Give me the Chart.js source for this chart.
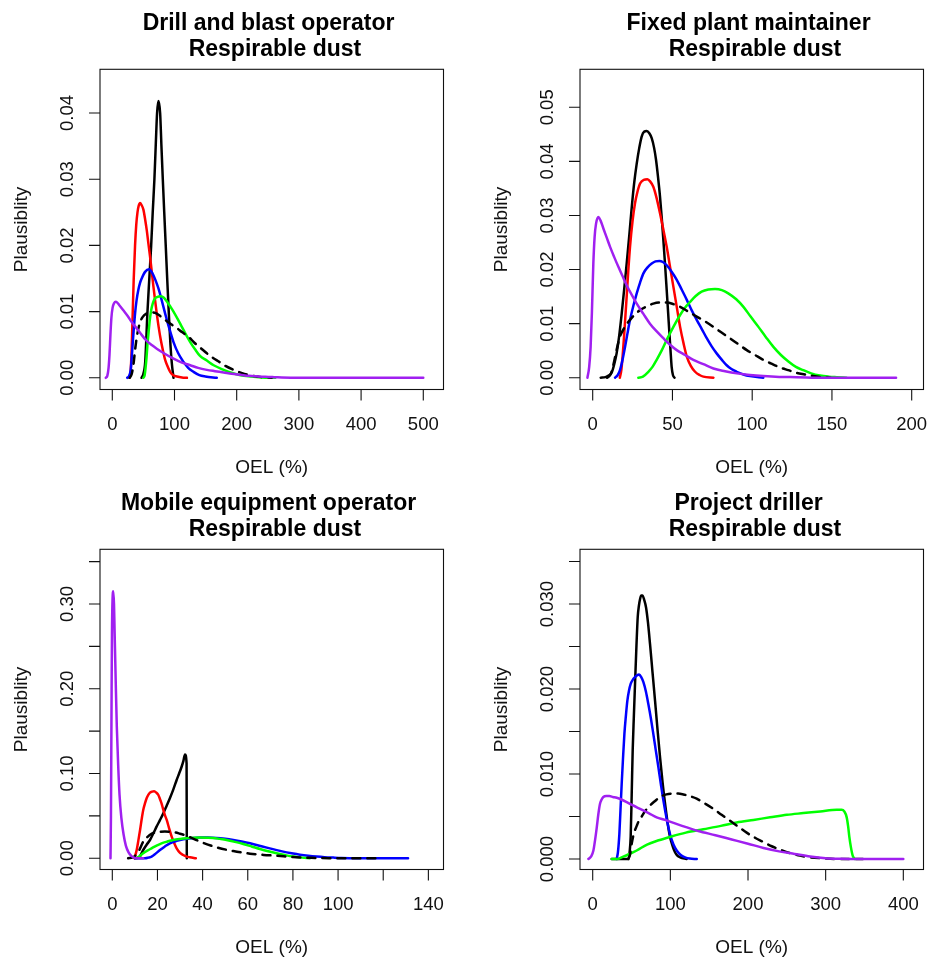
<!DOCTYPE html>
<html>
<head>
<meta charset="utf-8">
<script src="https://cdn.jsdelivr.net/npm/chart.js@4.4.1/dist/chart.umd.min.js"></script>
<style>
  html, body { margin: 0; padding: 0; background: #ffffff; width: 930px; height: 963px; overflow: hidden; }
  canvas { position: absolute; }
</style>
</head>
<body>
<canvas id="drill" width="480" height="480" style="left:0;top:0"></canvas>
<canvas id="fixed" width="450" height="480" style="left:480px;top:0"></canvas>
<canvas id="mobile" width="480" height="483" style="left:0;top:480px"></canvas>
<canvas id="project" width="450" height="483" style="left:480px;top:480px"></canvas>
<script>
// ---- Drill and blast operator: plausibility curves, [OEL %, plausibility] ----
const drillSolid = [[47,0],[50,0.0006],[53,0.0025],[56.4,0.0097],[59.5,0.015],[62.4,0.0198],[65,0.025],[67.7,0.030],[70,0.0355],[72,0.040],[74.2,0.0418],[76.9,0.040],[79,0.035],[81.2,0.030],[83.5,0.025],[86,0.0198],[88.5,0.0145],[90.9,0.0097],[93.5,0.005],[95.7,0.0022],[98.4,0]];
const drillRed = [[27.4,0],[29.5,0.001],[31,0.004],[32.8,0.0097],[34.4,0.0148],[36.6,0.020],[38.5,0.0231],[40.5,0.025],[42.5,0.026],[44.6,0.0264],[47,0.0261],[50,0.0254],[53,0.0238],[55.4,0.0223],[58,0.0203],[60.7,0.0183],[63.5,0.016],[66.1,0.0138],[68.8,0.0117],[71.5,0.0097],[74.5,0.0077],[78,0.0057],[81.5,0.0041],[85,0.0027],[89,0.0017],[93,0.0009],[98,0.0004],[104,0.0002],[112,0.00005],[120,0]];
const drillBlue = [[24,0],[26.5,0.0002],[29.6,0.0012],[31.2,0.003],[32.8,0.0052],[34.7,0.0075],[36.6,0.0097],[39,0.0117],[41.9,0.0133],[44.5,0.0143],[47.3,0.015],[52.7,0.016],[59.1,0.0164],[62.5,0.0161],[66.1,0.0155],[70,0.0146],[74.2,0.0135],[79.5,0.0117],[85,0.0097],[91.5,0.0075],[98.4,0.0054],[106,0.0037],[114.5,0.0024],[122,0.0015],[130.6,0.0009],[140,0.0004],[149.5,0.0002],[168,0]];
const drillGreen = [[50,0],[52,0.0004],[53.5,0.0015],[55,0.003],[56.5,0.005],[58,0.0065],[60,0.0085],[62.5,0.0102],[65,0.0112],[68,0.0119],[72,0.0122],[78,0.0123],[83,0.0121],[88,0.0115],[93,0.0108],[98.4,0.010],[105,0.0089],[111.8,0.0077],[118,0.0066],[125.3,0.0054],[133,0.0043],[141,0.0033],[152,0.0026],[163,0.0019],[179,0.0012],[190,0.0008],[206,0.0004],[222,0.0002],[240,0.00005],[262,0]];
const drillDashed = [[28,0],[31,0.0005],[34,0.002],[37,0.0045],[40,0.0065],[44,0.0082],[49,0.0092],[55,0.0097],[62,0.0099],[69,0.0098],[76,0.0094],[83,0.0089],[90,0.0084],[96,0.008],[104,0.0075],[112,0.0069],[122.6,0.0062],[132,0.0053],[142,0.0045],[152,0.0037],[162,0.003],[172,0.0024],[181.7,0.0018],[195,0.0012],[208.6,0.0007],[225,0.0003],[240,0.0001],[256,0]];
const drillPurple = [[-10.5,0],[-8,0.0003],[-6,0.0015],[-4.5,0.0035],[-3,0.0065],[-1.5,0.009],[0.5,0.0106],[3,0.0113],[5.5,0.0115],[7.5,0.0114],[11,0.011],[17.7,0.0102],[25,0.0093],[32,0.0083],[39,0.0075],[44.6,0.0068],[55,0.0056],[64,0.0049],[71.5,0.0044],[85,0.0036],[98.4,0.0029],[112,0.0023],[125.3,0.0019],[138,0.0015],[152,0.0012],[165,0.001],[179,0.0008],[192,0.0006],[206,0.00045],[220,0.0003],[233,0.00022],[246,0.00015],[260,0.0001],[287,0.00002],[320,0],[500,0]];
const drillXTicks = [0, 100, 200, 300, 400, 500];
const drillXLabels = ['0', '100', '200', '300', '400', '500'];
const drillYTicks = [0, 0.01, 0.02, 0.03, 0.04];
const drillYLabels = ['0.00', '0.01', '0.02', '0.03', '0.04'];

// ---- Fixed plant maintainer ----
const fixedSolid = [[5,0],[8,0.0001],[10,0.0004],[12,0.001],[13.5,0.0025],[15,0.0045],[16.5,0.0075],[18.2,0.0119],[19.8,0.0165],[21.3,0.0211],[23,0.0265],[24.5,0.0316],[26,0.036],[27.6,0.0396],[29.2,0.0425],[30.7,0.0446],[32.3,0.0455],[33.9,0.0456],[35.5,0.0452],[37,0.0443],[38.5,0.0425],[39.7,0.0403],[41,0.037],[42.2,0.0335],[43.3,0.0295],[44.3,0.0255],[45.4,0.0208],[46.4,0.0162],[47.3,0.012],[48.1,0.0082],[48.8,0.005],[49.5,0.002],[50.3,0.0005],[51.3,0]];
const fixedRed = [[17,0],[18,0.0015],[19.2,0.0057],[20.2,0.010],[21.3,0.015],[22.3,0.0197],[23.4,0.0242],[25,0.029],[26.5,0.0322],[28,0.0343],[29.7,0.0359],[32,0.0366],[34.3,0.0367],[36,0.0363],[38,0.0353],[40,0.0333],[42.2,0.0304],[44.3,0.0274],[46.4,0.0242],[48.5,0.0205],[50.6,0.0168],[52.7,0.0131],[54.8,0.0094],[57,0.0063],[59,0.0039],[61.5,0.0022],[64.2,0.0011],[67,0.0005],[69.4,0.0002],[75.7,0]];
const fixedBlue = [[14,0],[15.5,0.0004],[17.1,0.0014],[18.7,0.0033],[20.3,0.0057],[21.8,0.0082],[23.4,0.0107],[25.5,0.0133],[27.6,0.0156],[29.7,0.0176],[31.8,0.0193],[34.4,0.0204],[37,0.0211],[39.4,0.0215],[41.8,0.0216],[44,0.0214],[46.4,0.0208],[49.5,0.0196],[52.7,0.0181],[55.8,0.0163],[59,0.0144],[62,0.0125],[65.2,0.0107],[68.4,0.009],[71.5,0.0073],[74.6,0.0058],[77.7,0.0045],[81,0.0033],[84,0.0023],[87,0.0016],[90.3,0.0011],[94.5,0.0006],[98.6,0.0003],[107,0]];
const fixedGreen = [[28.6,0],[31.5,0.0002],[34.9,0.0011],[37.5,0.002],[40.1,0.0033],[43.2,0.005],[46.4,0.007],[50.6,0.0094],[54.8,0.0116],[58,0.013],[61,0.014],[64.6,0.0151],[68.3,0.0159],[72.5,0.0163],[76.7,0.0164],[81,0.0162],[85,0.0156],[90,0.0145],[94.5,0.0131],[99,0.0113],[103.9,0.0094],[108.6,0.0075],[113.3,0.0057],[118,0.0042],[122.7,0.003],[127.4,0.002],[132,0.0014],[137,0.0008],[142.5,0.0004],[148,0.0002],[153,0.0001],[159,0]];
const fixedDashed = [[9,0],[11,0.0005],[12.5,0.0018],[14,0.0038],[15.5,0.0058],[17.1,0.0076],[20,0.0093],[23.4,0.0107],[26.5,0.0117],[29.7,0.0125],[34,0.0132],[38,0.0137],[42,0.0139],[46.4,0.0139],[50.6,0.0136],[54.8,0.0131],[60,0.0122],[65.2,0.0113],[70.5,0.0104],[75.7,0.0094],[81,0.0083],[86,0.0073],[91.3,0.0062],[96.6,0.0051],[101.8,0.0042],[107,0.0033],[112,0.0026],[117.4,0.0019],[122.6,0.0014],[127.9,0.0009],[133,0.0006],[138.3,0.0003],[143.5,0.0001],[149,0]];
const fixedPurple = [[-3.3,0],[-2.2,0.002],[-1.3,0.0057],[-0.5,0.012],[0.4,0.0211],[1.2,0.026],[2.1,0.0285],[3.6,0.0297],[5,0.029],[6.7,0.0276],[8.8,0.0259],[10.9,0.0242],[13.5,0.0223],[16.1,0.0205],[18.7,0.0188],[21.3,0.0171],[24.5,0.0153],[27.6,0.0137],[31.8,0.0118],[35.9,0.010],[40,0.0086],[44.3,0.0073],[48.5,0.0061],[52.7,0.0051],[57.9,0.0042],[63.1,0.0033],[69.4,0.0025],[75.7,0.0017],[83,0.0012],[90.3,0.0008],[98.6,0.0005],[107,0.0003],[117,0.00015],[127.9,0.0001],[144.6,0],[190.2,0]];
const fixedXTicks = [0, 50, 100, 150, 200];
const fixedXLabels = ['0', '50', '100', '150', '200'];
const fixedYTicks = [0, 0.01, 0.02, 0.03, 0.04, 0.05];
const fixedYLabels = ['0.00', '0.01', '0.02', '0.03', '0.04', '0.05'];

// ---- Mobile equipment operator ----
const mobileSolid = [[10,0],[12,0.0015],[13.7,0.0098],[15.2,0.016],[16.7,0.0216],[18.2,0.0295],[19.6,0.0373],[21.1,0.045],[22.6,0.053],[24,0.0615],[25.5,0.0708],[27,0.081],[28.5,0.0924],[29.6,0.100],[30.7,0.108],[31.5,0.115],[32.2,0.1225],[32.9,0.112],[33.0,0]];
const mobileRed = [[9.8,0],[10.8,0.0098],[11.6,0.022],[12.3,0.0334],[13,0.046],[13.7,0.057],[14.5,0.065],[15.2,0.0708],[16,0.075],[16.7,0.0774],[17.6,0.0786],[18.5,0.079],[19.5,0.0775],[20.4,0.0747],[21.1,0.070],[21.8,0.0649],[22.5,0.058],[23.3,0.051],[24.1,0.0452],[25.2,0.035],[26.3,0.0255],[27.4,0.018],[28.5,0.0118],[30,0.0065],[31.4,0.0039],[33,0.002],[34.4,0.0012],[37,0]];
const mobileBlue = [[10,0],[14.5,0],[16,0.0008],[17.4,0.002],[19.2,0.0055],[21.1,0.0098],[23.3,0.014],[25.5,0.0177],[28.5,0.0205],[31.4,0.0224],[35,0.0237],[38.8,0.0244],[42.5,0.0244],[46.2,0.024],[50,0.023],[53.6,0.0216],[57.3,0.0198],[61,0.0177],[64.7,0.0152],[68.4,0.0126],[72,0.0102],[75.7,0.0079],[79.4,0.006],[83.1,0.0043],[86.8,0.003],[90.5,0.002],[94,0.0013],[97.9,0.0008],[101.5,0.0004],[105,0.0002],[112,0.00005],[120,0],[131,0]];
const mobileGreen = [[10.8,0],[12.3,0.003],[13.7,0.0059],[15.5,0.009],[17.4,0.0118],[19.6,0.015],[21.8,0.0177],[24.4,0.0198],[27,0.0216],[30,0.0228],[32.9,0.0236],[35.9,0.0241],[38.8,0.0244],[41.8,0.0243],[44.7,0.024],[47.6,0.0229],[50.6,0.0216],[54.3,0.0194],[58,0.0169],[61.7,0.014],[65.4,0.011],[69.1,0.0083],[72.8,0.0059],[76.5,0.0038],[80.2,0.002],[84,0.0008],[87.5,0]];
const mobileDashed = [[7,0],[9,0.001],[10.5,0.004],[12,0.01],[13.7,0.0196],[15.5,0.025],[17.5,0.029],[20,0.031],[23.3,0.0315],[27,0.031],[30,0.029],[33,0.0265],[36,0.023],[40,0.0185],[46,0.013],[53.6,0.0085],[61,0.0055],[67,0.004],[72.8,0.003],[80,0.0015],[88,0.0006],[96,0.0002],[105,0],[117,0]];
const mobilePurple = [[-0.8,0],[-0.6,0.05],[-0.44,0.128],[-0.3,0.2],[-0.15,0.265],[0.1,0.305],[0.44,0.315],[0.75,0.3],[1.0,0.27],[1.5,0.21],[2.0,0.155],[2.6,0.11],[3.2,0.075],[4.0,0.048],[5.0,0.028],[6.0,0.015],[7.2,0.007],[8.5,0.0025],[9.8,0.0005],[11,0],[13.7,0]];
const mobileXTicks = [0, 20, 40, 60, 80, 100, 120, 140];
const mobileXLabels = ['0', '20', '40', '60', '80', '100', '', '140'];
const mobileYTicks = [0, 0.05, 0.10, 0.15, 0.20, 0.25, 0.30, 0.35];
const mobileYLabels = ['0.00', '', '0.10', '', '0.20', '', '0.30', ''];

// ---- Project driller ----
const projectSolid = [[24.5,0],[46,0],[47.5,0.0008],[48.9,0.0026],[50.2,0.0075],[51.5,0.0128],[53,0.0168],[54.5,0.0206],[56.3,0.025],[58,0.0285],[59.5,0.0298],[61,0.0306],[62.5,0.031],[64,0.031],[66.3,0.0305],[68.7,0.0296],[71.2,0.0278],[73.8,0.0253],[77,0.022],[80.3,0.0186],[83.5,0.0152],[86.7,0.012],[90,0.009],[93.2,0.0065],[96.4,0.0043],[99.6,0.0026],[103,0.0015],[106,0.0008],[109,0.0004],[112.5,0.0002],[121,0]];
const projectBlue = [[30.9,0],[32.5,0.0008],[34.3,0.0029],[35.8,0.0058],[37.3,0.0088],[39,0.0118],[40.8,0.0147],[42.7,0.0168],[44.6,0.0186],[46.7,0.0198],[48.9,0.0206],[51.7,0.0211],[54.5,0.0214],[57,0.0216],[59.7,0.0217],[62.5,0.0214],[65.3,0.0208],[68.5,0.0197],[71.7,0.0182],[75,0.0165],[78.1,0.0147],[81.4,0.0127],[84.6,0.0108],[87.8,0.0088],[91,0.0069],[95.3,0.0047],[99.6,0.0029],[104,0.0017],[108.2,0.001],[113,0.0005],[118.9,0.0002],[125,0.00005],[134,0]];
const projectGreen = [[24.5,0],[32,0],[37.3,0.0002],[45,0.0005],[56.7,0.001],[70,0.0017],[85,0.0022],[99.6,0.0026],[120,0.0031],[142.5,0.0035],[165,0.0039],[185.4,0.0043],[207,0.0046],[228.4,0.0049],[250,0.0052],[271.3,0.0054],[293,0.0056],[314.2,0.0058],[320.6,0.0058],[324,0.0056],[327.1,0.0049],[329,0.0038],[330.5,0.0026],[332.5,0.0014],[334.8,0.0004],[337.8,0]];
const projectDashed = [[46,0],[48,0.0005],[50.2,0.0018],[53,0.003],[56.7,0.0039],[60,0.0046],[63.1,0.005],[68,0.0057],[73.8,0.0063],[80,0.0068],[86.7,0.0073],[95,0.0076],[103.9,0.0077],[110,0.0077],[116.8,0.0076],[125,0.0074],[133.9,0.0071],[145,0.0065],[155.4,0.0059],[166,0.0052],[176.9,0.0045],[187.5,0.0038],[198.3,0.0031],[209,0.0025],[219.8,0.002],[230.5,0.0015],[241.3,0.0011],[254,0.0007],[267,0.0004],[280,0.0002],[292.8,0.0001],[314,0],[348,0]];
const projectPurple = [[-5.6,0],[-2,0.0003],[0.9,0.001],[3,0.0022],[5.2,0.0037],[7.3,0.0053],[9.4,0.0065],[11.5,0.007],[13.7,0.0073],[17.5,0.0074],[21.5,0.0074],[26,0.0073],[30.9,0.0072],[37,0.007],[43.8,0.0067],[52,0.0063],[61,0.0059],[72,0.0054],[82.4,0.0049],[93,0.0046],[115,0.0039],[136,0.0033],[158,0.0028],[179,0.0023],[200,0.0018],[220,0.0013],[240,0.0009],[260,0.0006],[280,0.0003],[300,0.0001],[320,0.00003],[340,0],[400,0]];
const projectXTicks = [0, 100, 200, 300, 400];
const projectXLabels = ['0', '100', '200', '300', '400'];
const projectYTicks = [0, 0.005, 0.010, 0.015, 0.020, 0.025, 0.030, 0.035];
const projectYLabels = ['0.000', '', '0.010', '', '0.020', '', '0.030', ''];

// ---- styling ----
const FONT = '"Liberation Sans", Arial, Helvetica, sans-serif';
const BOX = { left: 100, top: 69.3, right: 443.5, bottom: 389.5 };

function curve(points, color, dashed, order) {
  return {
    data: points.map(([x, y]) => ({ x, y })),
    borderColor: color,
    borderWidth: 2.5,
    borderDash: dashed ? [8, 7] : [],
    borderCapStyle: 'round',
    borderJoinStyle: 'round',
    cubicInterpolationMode: 'monotone',
    pointRadius: 0,
    fill: false,
    order: order
  };
}

function makePanel(cfg) {
  const canvas = document.getElementById(cfg.id);
  const W = canvas.width, H = canvas.height;

  // box, ticks, tick labels, titles in the style of a base R plot
  const frame = {
    id: 'frame',
    afterDatasetsDraw(chart) {
      const { ctx, chartArea: a, scales: { x, y } } = chart;
      ctx.save();
      ctx.strokeStyle = '#111';
      ctx.lineWidth = 1.1;
      ctx.strokeRect(a.left, a.top, a.right - a.left, a.bottom - a.top);

      ctx.beginPath();
      cfg.xTicks.forEach(v => {
        const px = x.getPixelForValue(v);
        ctx.moveTo(px, a.bottom);
        ctx.lineTo(px, a.bottom + 11);
      });
      cfg.yTicks.forEach(v => {
        const py = y.getPixelForValue(v);
        ctx.moveTo(a.left, py);
        ctx.lineTo(a.left - 11, py);
      });
      ctx.stroke();

      ctx.fillStyle = '#111';
      ctx.font = '18.5px ' + FONT;
      ctx.textAlign = 'center';
      ctx.textBaseline = 'alphabetic';
      cfg.xLabels.forEach((t, i) => {
        if (t) ctx.fillText(t, x.getPixelForValue(cfg.xTicks[i]), 430);
      });
      cfg.yLabels.forEach((t, i) => {
        if (!t) return;
        ctx.save();
        ctx.translate(72.5, y.getPixelForValue(cfg.yTicks[i]));
        ctx.rotate(-Math.PI / 2);
        ctx.fillText(t, 0, 0);
        ctx.restore();
      });

      const cx = (a.left + a.right) / 2;
      const cy = (a.top + a.bottom) / 2;
      ctx.font = '19px ' + FONT;
      ctx.fillText('OEL (%)', cx, 473);
      ctx.save();
      ctx.translate(27, cy);
      ctx.rotate(-Math.PI / 2);
      ctx.fillText('Plausiblity', 0, 0);
      ctx.restore();

      ctx.fillStyle = '#000';
      ctx.font = 'bold 23px ' + FONT;
      ctx.fillText(cfg.title[0], cx, 29.5);
      ctx.fillText(cfg.title[1], cx, 56);
      ctx.restore();
    }
  };

  return new Chart(canvas, {
    type: 'line',
    data: {
      datasets: [
        curve(cfg.solid, '#000000', false, 6),
        curve(cfg.red, '#FF0000', false, 5),
        curve(cfg.blue, '#0000FF', false, 4),
        curve(cfg.green, '#00FF00', false, 3),
        curve(cfg.dashed, '#000000', true, 2),
        curve(cfg.purple, '#A020F0', false, 1)
      ].filter(d => d.data.length)
    },
    options: {
      responsive: false,
      animation: false,
      devicePixelRatio: 1,
      events: [],
      layout: { padding: { left: BOX.left, top: BOX.top, right: W - BOX.right, bottom: H - BOX.bottom } },
      scales: {
        x: { type: 'linear', min: cfg.xMin, max: cfg.xMax, display: false },
        y: { type: 'linear', min: cfg.yMin, max: cfg.yMax, display: false }
      },
      plugins: { legend: { display: false }, tooltip: { enabled: false }, title: { display: false } }
    },
    plugins: [frame]
  });
}

makePanel({
  id: 'drill', title: ['Drill and blast operator ', ' Respirable dust'],
  xMin: -19.77, xMax: 532.5, yMin: -0.001767, yMax: 0.0466,
  xTicks: drillXTicks, xLabels: drillXLabels, yTicks: drillYTicks, yLabels: drillYLabels,
  solid: drillSolid, red: drillRed, blue: drillBlue, green: drillGreen, dashed: drillDashed, purple: drillPurple
});
makePanel({
  id: 'fixed', title: ['Fixed plant maintainer ', ' Respirable dust'],
  xMin: -7.96, xMax: 207.4, yMin: -0.00218, yMax: 0.05703,
  xTicks: fixedXTicks, xLabels: fixedXLabels, yTicks: fixedYTicks, yLabels: fixedYLabels,
  solid: fixedSolid, red: fixedRed, blue: fixedBlue, green: fixedGreen, dashed: fixedDashed, purple: fixedPurple
});
makePanel({
  id: 'mobile', title: ['Mobile equipment operator ', ' Respirable dust'],
  xMin: -5.45, xMax: 146.7, yMin: -0.01321, yMax: 0.3645,
  xTicks: mobileXTicks, xLabels: mobileXLabels, yTicks: mobileYTicks, yLabels: mobileYLabels,
  solid: mobileSolid, red: mobileRed, blue: mobileBlue, green: mobileGreen, dashed: mobileDashed, purple: mobilePurple
});
makePanel({
  id: 'project', title: ['Project driller ', ' Respirable dust'],
  xMin: -16.36, xMax: 426.0, yMin: -0.001235, yMax: 0.03644,
  xTicks: projectXTicks, xLabels: projectXLabels, yTicks: projectYTicks, yLabels: projectYLabels,
  solid: projectSolid, red: [], blue: projectBlue, green: projectGreen, dashed: projectDashed, purple: projectPurple
});
</script>
</body>
</html>
